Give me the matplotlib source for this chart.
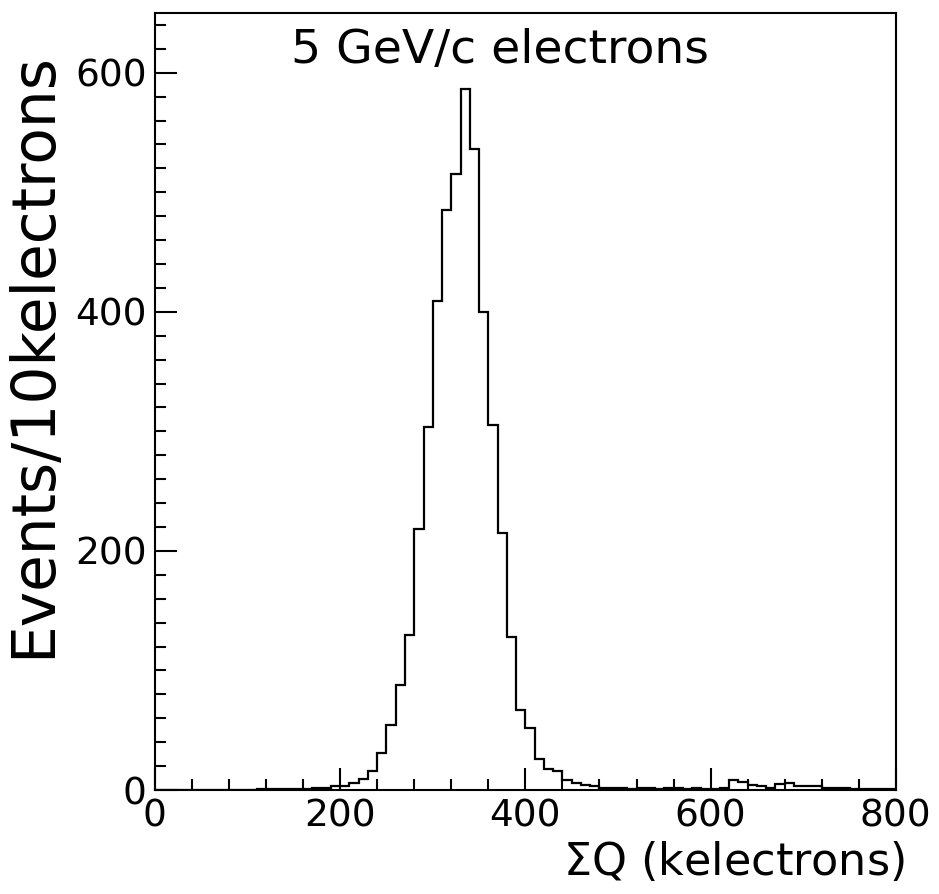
import matplotlib
matplotlib.use('Agg')
import matplotlib.pyplot as plt
import numpy as np

# bin edges every 10 kelectrons, 0..800
edges = np.arange(0, 810, 10)
counts = [0, 0, 0, 0, 0, 0, 0, 0, 0, 0,
          0, 0.5, 1, 1, 1, 1, 1, 1.5, 2, 3,
          3.5, 5.5, 9, 16, 31, 54, 88, 130, 218, 304,
          409, 485, 515, 586, 536, 400, 305, 215, 128, 67,
          52, 26, 18, 16, 8, 6, 4, 3, 2, 2,
          2, 1, 2, 2, 1, 2, 2, 1, 2, 1,
          1, 2, 8, 7, 4, 3, 2, 5, 6, 3,
          3, 3, 2, 2, 2, 1, 1, 1, 1, 1]

fig = plt.figure(figsize=(9.39, 8.94), dpi=100)
ax = fig.add_axes([0.165, 0.1163, 0.789, 0.8692])

ax.stairs(counts, edges, color='black', linewidth=1.6)

ax.set_xlim(0, 800)
ax.set_ylim(0, 650)
ax.set_xticks([0, 200, 400, 600, 800])
ax.set_xticks(np.arange(0, 801, 40), minor=True)
ax.set_yticks([0, 200, 400, 600])
ax.set_yticks(np.arange(0, 641, 20), minor=True)
ax.tick_params(which='both', direction='in', width=1.5, top=False, right=False)
ax.tick_params(which='major', length=16, labelsize=27, pad=6)
ax.tick_params(which='minor', length=8)
for s in ax.spines.values():
    s.set_linewidth(1.5)

ax.text(373, 619, '5 GeV/c electrons', fontsize=34, ha='center', va='center')
fig.text(0.036, 0.603, 'Events/10kelectrons', rotation=90, fontsize=43,
         ha='center', va='center')
fig.text(0.964, 0.036, r'$\Sigma$Q (kelectrons)', fontsize=32,
         ha='right', va='center')

fig.savefig('out.png', dpi=100)
